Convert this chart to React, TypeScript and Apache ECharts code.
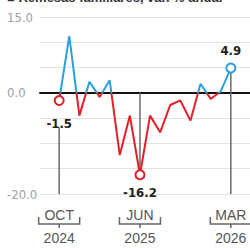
import React, { useEffect, useRef } from "react";
import * as echarts from "echarts";

const title = "■ Remesas familiares, var. % anual";
const monthIndex = [0, 1, 2, 3, 4, 5, 6, 7, 8, 9, 10, 11, 12, 13, 14, 15, 16, 17];
const values = [-1.5, 11.2, -4.5, 2.2, -0.8, 2.5, -12.3, -4.5, -16.2, -4.5, -7.8, -2.4, -1.5, -5.5, 1.8, -1.2, 0.3, 4.9];
const highlighted = [0, 8, 17];
const labelPos = ["bottom", "bottom", "top"];
const labelDist = [11, 6, 6];
const xTickIdx = [0, 8, 17];
const xTickMonth = ["OCT", "JUN", "MAR"];
const xTickYear = ["2024", "2025", "2026"];
const yLabelValues = [15, 0, -20];
const yMin = -20;
const yMax = 15;
const yStep = 5;
// vertical guide segments
const guideX = [0, 8, 17];
const guideFrom = [-6.8, 0, 4.0];
const guideTo = [-20, -15.3, -20];

const BLUE = "#2a9fde";
const RED = "#e3202a";
const NARROW = '"Liberation Sans Narrow", "DejaVu Sans Condensed", sans-serif';

export default function App() {
  const ref = useRef<HTMLDivElement>(null);
  useEffect(() => {
    if (!ref.current) return;
    const chart = echarts.init(ref.current, null, { renderer: "svg" });
    const lineData = monthIndex.map((m, i) => {
      const h = highlighted.indexOf(i);
      const c = values[i] > 0 ? BLUE : RED;
      if (h < 0) return { value: [m, values[i]], symbol: "none" };
      return {
        value: [m, values[i]],
        symbol: "emptyCircle",
        symbolSize: 9,
        itemStyle: { color: c, borderColor: c, borderWidth: 2 },
        label: {
          show: true,
          position: labelPos[h],
          distance: labelDist[h],
          fontFamily: NARROW,
          fontWeight: "bold",
          fontSize: 13,
          color: "#222",
        },
      };
    });
    chart.setOption({
      animation: false,
      grid: { left: 40, right: 0, top: 17, bottom: 54, containLabel: false },
      xAxis: {
        type: "value",
        min: -1.9,
        max: 18.9,
        axisLine: { show: true, onZero: true, lineStyle: { color: "#111", width: 2 } },
        axisTick: { show: false },
        axisLabel: { show: false },
        splitLine: { show: false },
      },
      yAxis: {
        type: "value",
        min: yMin,
        max: yMax,
        interval: yStep,
        axisLine: { show: false },
        axisTick: { show: false },
        splitLine: { show: true, lineStyle: { color: "#e2e2e2", width: 1 } },
        axisLabel: {
          align: "left",
          margin: 33,
          color: "#a0a0a0",
          fontSize: 13,
          fontFamily: NARROW,
          formatter: (v: number) => (yLabelValues.indexOf(v) >= 0 ? v.toFixed(1) : ""),
        },
      },
      series: [
        {
          type: "line",
          data: lineData,
          showSymbol: true,
          lineStyle: { width: 2, color: RED },
          itemStyle: { borderWidth: 2, color: RED },
          label: { formatter: (p: any) => Number(p.value[1]).toFixed(1) },
          z: 3,
        },
      ],
    });

    try {
      const px = (x: number, y: number) => chart.convertToPixel({ gridIndex: 0 }, [x, y]) as number[];
      const top = px(0, yMax)[1];
      const bot = px(0, yMin)[1];
      const zero = px(0, 0)[1];
      const f = (zero - top) / (bot - top);
      const grad = new echarts.graphic.LinearGradient(0, top, 0, bot, [
        { offset: 0, color: BLUE },
        { offset: f, color: BLUE },
        { offset: f, color: RED },
        { offset: 1, color: RED },
      ], true);

      const elements: any[] = [
        {
          type: "text",
          x: 7,
          y: 4,
          z: 10,
          style: {
            text: title,
            fill: "#333",
            font: 'bold 13px "Liberation Sans", sans-serif',
            align: "left",
            verticalAlign: "bottom",
          },
        },
      ];
      guideX.forEach((gx, i) => {
        const a = px(gx, guideFrom[i]);
        const b = px(gx, guideTo[i]);
        elements.push({
          type: "line",
          z: 1,
          shape: { x1: a[0], y1: a[1], x2: b[0], y2: b[1] },
          style: { stroke: "#6a6a6a", lineWidth: 1.5 },
        });
      });
      const font = '14px "Liberation Sans", sans-serif';
      xTickIdx.forEach((tx, i) => {
        const p = px(tx, yMin);
        const x = p[0];
        const b = p[1];
        elements.push(
          {
            type: "text",
            x,
            y: b + 21,
            style: { text: xTickMonth[i], fill: "#555", font, align: "center", verticalAlign: "middle" },
          },
          {
            type: "polyline",
            shape: { points: [[x - 20.5, b + 23], [x - 20.5, b + 30], [x + 20.5, b + 30], [x + 20.5, b + 23]] },
            style: { stroke: "#666", lineWidth: 1.5, fill: null },
          },
          {
            type: "line",
            shape: { x1: x, y1: b + 30, x2: x, y2: b + 34 },
            style: { stroke: "#666", lineWidth: 1.5 },
          },
          {
            type: "text",
            x,
            y: b + 44,
            style: { text: xTickYear[i], fill: "#555", font, align: "center", verticalAlign: "middle" },
          }
        );
      });
      chart.setOption({
        graphic: elements,
        series: [{ lineStyle: { color: grad } }],
      });
    } catch (e) {
      console.error(e);
    }
    return () => chart.dispose();
  }, []);
  return <div ref={ref} style={{ width: 250, height: 248, position: "absolute", left: 0, top: 0 }} />;
}
